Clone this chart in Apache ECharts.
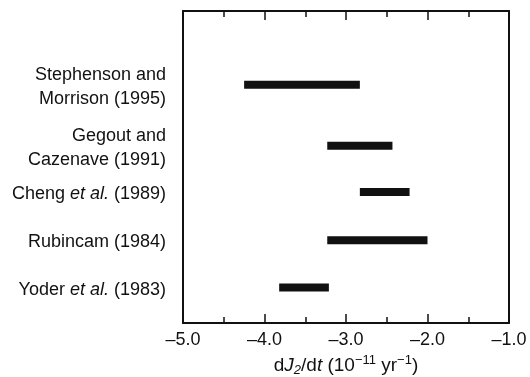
<!DOCTYPE html>
<html>
<head>
<meta charset="UTF-8">
<title>dJ2/dt estimates</title>
<script src="https://cdn.jsdelivr.net/npm/echarts@6/dist/echarts.min.js"></script>
<style>
 html,body{margin:0;padding:0;background:#fff;}
 #main{width:530px;height:377px;}
</style>
</head>
<body>
<div id="main"></div>
<script type="text/javascript">
// study labels, top to bottom ({it|...} = italic)
var studies = ['Stephenson and\nMorrison (1995)', 'Gegout and\nCazenave (1991)', 'Cheng {it|et al.} (1989)', 'Rubincam (1984)', 'Yoder {it|et al.} (1983)'];
// range of each estimate, 10^-11 yr^-1
var lowValues = [-4.25, -3.23, -2.83, -3.23, -3.82];
var highValues = [-2.83, -2.43, -2.22, -2.0, -3.21];
// vertical row positions (value y axis, 0 = bottom)
var rowPositions = [5.04, 3.75, 2.77, 1.75, 0.75];
var xTicks = [-5, -4, -3, -2, -1];

var font = '"Liberation Sans", Arial, Helvetica, sans-serif';
var ink = '#111';

var rows = [];
for (var i = 0; i < studies.length; i++) {
    rows.push([lowValues[i], highValues[i], rowPositions[i], i]);
}

var chart = echarts.init(document.getElementById('main'));

function axisLabelFmt(v) {
    return (v < 0 ? '\u2013' : '') + Math.abs(v).toFixed(1);
}

var option = {
    animation: false,
    backgroundColor: '#fff',
    grid: {left: 183, right: 21, top: 11, bottom: 54, containLabel: false, outerBoundsMode: 'none'},
    xAxis: [{
        type: 'value',
        position: 'bottom',
        min: xTicks[0], max: xTicks[xTicks.length - 1], interval: 1,
        axisLine: {show: true, onZero: false, lineStyle: {color: ink, width: 2}},
        axisTick: {show: true, inside: true, length: 9, lineStyle: {color: ink, width: 1.5}},
        minorTick: {show: true, splitNumber: 2, length: 6, lineStyle: {color: ink, width: 1.5}},
        splitLine: {show: false},
        axisLabel: {formatter: axisLabelFmt, color: ink, fontSize: 18, fontFamily: font, margin: 8},
        name: 'd{it|J}{sub|2}/d{it|t} (10{sup|\u221211} yr{sup|\u22121})',
        nameLocation: 'middle',
        nameGap: 31,
        nameTextStyle: {
            color: ink, fontSize: 19, fontFamily: font,
            rich: {
                it: {fontStyle: 'italic', fontSize: 19, fontFamily: font, color: ink},
                sub: {fontSize: 13, fontStyle: 'italic', fontFamily: font, color: ink, padding: [10, 0, 0, 0]},
                sup: {fontSize: 13, fontFamily: font, color: ink, padding: [0, 0, 10, 0]}
            }
        }
    }, {
        type: 'value',
        position: 'top',
        min: xTicks[0], max: xTicks[xTicks.length - 1], interval: 1,
        axisLine: {show: true, onZero: false, lineStyle: {color: ink, width: 2}},
        axisTick: {show: true, inside: true, length: 9, lineStyle: {color: ink, width: 1.5}},
        minorTick: {show: true, splitNumber: 2, length: 6, lineStyle: {color: ink, width: 1.5}},
        splitLine: {show: false},
        axisLabel: {show: false}
    }],
    yAxis: [{
        type: 'value',
        position: 'left',
        min: 0, max: 6.6,
        axisLine: {show: true, onZero: false, lineStyle: {color: ink, width: 2}},
        axisTick: {show: false},
        splitLine: {show: false},
        axisLabel: {show: false}
    }, {
        type: 'value',
        position: 'right',
        min: 0, max: 6.6,
        axisLine: {show: true, onZero: false, lineStyle: {color: ink, width: 2}},
        axisTick: {show: false},
        splitLine: {show: false},
        axisLabel: {show: false}
    }],
    series: [{
        type: 'custom',
        xAxisIndex: 0,
        yAxisIndex: 0,
        clip: false,
        data: rows,
        renderItem: function (params, api) {
            var a = api.coord([api.value(0), api.value(2)]);
            var b = api.coord([api.value(1), api.value(2)]);
            var edge = api.coord([xTicks[0], api.value(2)]);
            var idx = api.value(3);
            return {
                type: 'group',
                children: [{
                    type: 'rect',
                    shape: {x: a[0], y: a[1] - 4, width: b[0] - a[0], height: 8},
                    style: {fill: ink}
                }, {
                    type: 'text',
                    style: {
                        text: studies[idx],
                        x: edge[0] - 17,
                        y: a[1] + 2,
                        align: 'right',
                        verticalAlign: 'middle',
                        fontSize: 18,
                        lineHeight: 24,
                        fontFamily: font,
                        fill: ink,
                        rich: {
                            it: {fontStyle: 'italic', fontSize: 18, fontFamily: font, fill: ink, lineHeight: 24}
                        }
                    }
                }]
            };
        }
    }]
};

chart.setOption(option);
</script>
</body>
</html>
